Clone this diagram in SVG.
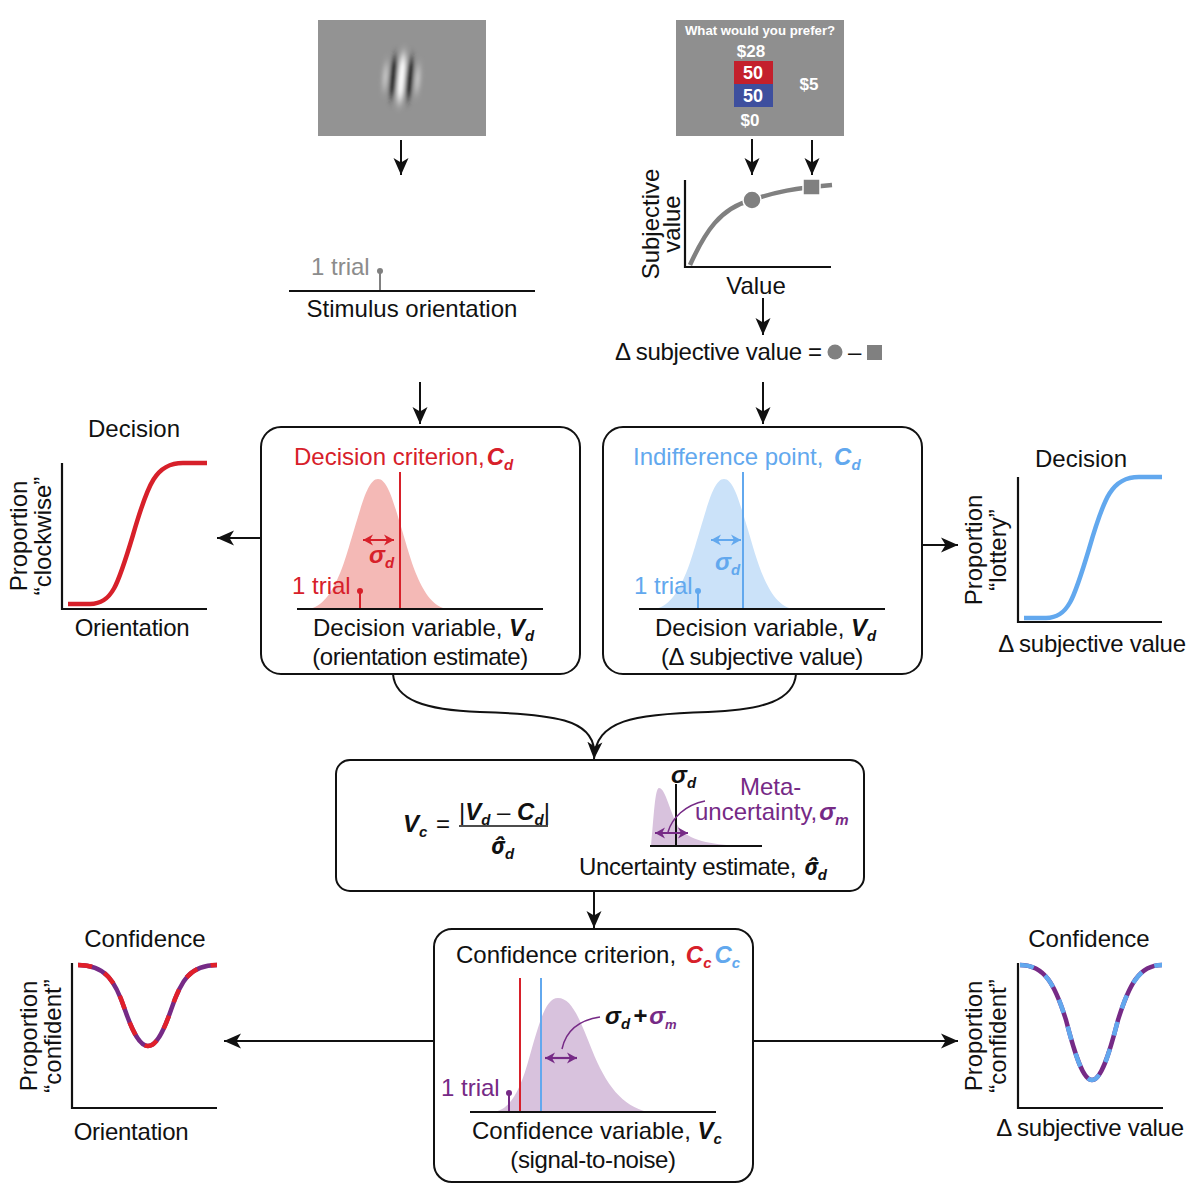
<svg xmlns="http://www.w3.org/2000/svg" width="1197" height="1200" viewBox="0 0 1197 1200">
<style>
text{font-family:"Liberation Sans",Arial,sans-serif;font-size:24px;fill:#111}
.m{text-anchor:middle}
.bi{font-weight:bold;font-style:italic}
.hat{font-family:"Noto Sans",sans-serif;font-weight:bold;font-style:italic;font-size:23px}
.sub{font-size:15px;font-weight:bold;font-style:italic}
.red{fill:#d7202a}.blue{fill:#62a8ee}.pur{fill:#762a86}.gray{fill:#8c8c8c}
.box{fill:#fff;stroke:#111;stroke-width:2}
.ax{fill:none;stroke:#111;stroke-width:2.2}
.con{fill:none;stroke:#111;stroke-width:2}
.w{fill:#fff;font-weight:bold}
</style>
<defs>
<marker id="ah" markerUnits="userSpaceOnUse" markerWidth="18" markerHeight="16" refX="17" refY="8" orient="auto"><path d="M0 0.500L17 8L0 15.500L4.500 8Z" fill="#111"/></marker>
<marker id="r1" markerUnits="userSpaceOnUse" markerWidth="11" markerHeight="12" refX="10" refY="6" orient="auto-start-reverse"><path d="M0 0.500L10 6L0 11.500L3 6Z" fill="#d7202a"/></marker>
<marker id="b1" markerUnits="userSpaceOnUse" markerWidth="11" markerHeight="12" refX="10" refY="6" orient="auto-start-reverse"><path d="M0 0.500L10 6L0 11.500L3 6Z" fill="#62a8ee"/></marker>
<marker id="p1" markerUnits="userSpaceOnUse" markerWidth="11" markerHeight="12" refX="10" refY="6" orient="auto-start-reverse"><path d="M0 0.500L10 6L0 11.500L3 6Z" fill="#762a86"/></marker>
<filter id="bl" x="-100%" y="-50%" width="300%" height="200%"><feGaussianBlur stdDeviation="2.2 6"/></filter>
</defs>

<g id="connectors">
<path class="con" marker-end="url(#ah)" d="M401 140V175"/>
<path class="con" marker-end="url(#ah)" d="M752 139V175"/>
<path class="con" marker-end="url(#ah)" d="M812 140V175"/>
<path class="con" marker-end="url(#ah)" d="M763 298V335"/>
<path class="con" marker-end="url(#ah)" d="M420 382V424"/>
<path class="con" marker-end="url(#ah)" d="M763 382V424"/>
<path class="con" marker-end="url(#ah)" d="M261 538H217"/>
<path class="con" marker-end="url(#ah)" d="M922 545H958"/>
<path class="con" d="M393 674C395 700 425 710 480 712C555 714 592 720 594 750"/>
<path class="con" marker-end="url(#ah)" d="M796 674C794 700 764 710 708 712C633 714 596 720 594 759"/>
<path class="con" marker-end="url(#ah)" d="M594 891V928"/>
<path class="con" marker-end="url(#ah)" d="M434 1041H224"/>
<path class="con" marker-end="url(#ah)" d="M753 1041H958"/>
</g>

<g id="gabor-stimulus">
<rect x="318" y="20" width="168" height="116" fill="#939393"/>
<g transform="rotate(5 402 78)" filter="url(#bl)">
<ellipse cx="385.500" cy="78" rx="3" ry="14" fill="#c8c8c8"/>
<ellipse cx="393.500" cy="78" rx="4" ry="21" fill="#222"/>
<ellipse cx="401.500" cy="78" rx="4" ry="25" fill="#fff"/>
<ellipse cx="409.500" cy="78" rx="4" ry="21" fill="#222"/>
<ellipse cx="417.500" cy="78" rx="3" ry="14" fill="#c8c8c8"/>
</g>
</g>

<g id="lottery-stimulus">
<rect x="676" y="20" width="168" height="116" fill="#8f8f8f"/>
<text class="w m" x="760" y="35" style="font-size:13.200px">What would you prefer?</text>
<text class="w m" x="751" y="57" style="font-size:17px">$28</text>
<rect x="734" y="61" width="39" height="23" fill="#c4202c"/>
<rect x="734" y="84" width="39" height="23" fill="#3e4f9e"/>
<text class="w m" x="753" y="79" style="font-size:18px">50</text>
<text class="w m" x="753" y="102" style="font-size:18px">50</text>
<text class="w m" x="809" y="90" style="font-size:17px">$5</text>
<text class="w m" x="750" y="126" style="font-size:17px">$0</text>
</g>

<g id="value-function">
<path class="ax" d="M685 180V267H831"/>
<path d="M690 265C705 232 720 208 752 200C775 192 795 188 832 185" fill="none" stroke="#808080" stroke-width="4.500"/>
<circle cx="752" cy="200" r="9" fill="#808080" stroke="#fff" stroke-width="1.500"/>
<rect x="803" y="179" width="17" height="16" fill="#808080" stroke="#fff" stroke-width="1.500"/>
<text class="m" transform="translate(659 224) rotate(-90)">Subjective</text>
<text class="m" transform="translate(680 224) rotate(-90)">value</text>
<text class="m" x="756" y="294">Value</text>
</g>

<g id="stimulus-orientation">
<text class="gray" x="311" y="275">1 trial</text>
<path d="M380 272V291" stroke="#808080" stroke-width="2" fill="none"/>
<circle cx="380" cy="271" r="3" fill="#808080"/>
<path class="ax" d="M289 291H535"/>
<text class="m" x="412" y="317">Stimulus orientation</text>
</g>

<g id="delta-subjective-value">
<text x="615" y="360" style="letter-spacing:-.3px">Δ subjective value =</text>
<circle cx="835" cy="352" r="7.500" fill="#808080"/>
<text x="848" y="360">–</text>
<rect x="867" y="345" width="15" height="15" fill="#808080"/>
</g>

<g id="decision-box-orientation">
<rect class="box" x="261" y="427" width="319" height="247" rx="20"/>
<path d="M306 609C334 609 346 556 354 530C362 504 368 479 378 479C388 479 394 504 402 530C410 556 422 609 450 609Z" fill="#f4b9b6"/>
<path d="M400 472V609" stroke="#d7202a" stroke-width="2"/>
<path d="M363 540H394" stroke="#d7202a" stroke-width="2" marker-start="url(#r1)" marker-end="url(#r1)"/>
<text x="294" y="465" class="red">Decision criterion,<tspan class="bi" dx="2">C</tspan><tspan class="sub" dy="5">d</tspan></text>
<text x="369" y="563" class="red bi">σ<tspan class="sub" dy="5">d</tspan></text>
<text x="292" y="594" class="red">1 trial</text>
<path d="M360 591V609" stroke="#d7202a" stroke-width="2"/>
<circle cx="360" cy="591" r="3" fill="#d7202a"/>
<path class="ax" d="M297 609H543"/>
<text x="313" y="636">Decision variable, <tspan class="bi">V</tspan><tspan class="sub" dy="5">d</tspan></text>
<text class="m" x="420" y="665" style="letter-spacing:-.45px">(orientation estimate)</text>
</g>

<g id="decision-box-value">
<rect class="box" x="603" y="427" width="319" height="247" rx="20"/>
<path d="M652 609C680 609 692 556 700 530C708 504 714 479 724 479C734 479 740 504 748 530C756 556 768 609 796 609Z" fill="#cbe2f9"/>
<path d="M743 472V609" stroke="#62a8ee" stroke-width="2"/>
<path d="M711 540H741" stroke="#62a8ee" stroke-width="2" marker-start="url(#b1)" marker-end="url(#b1)"/>
<text x="633" y="465" class="blue">Indifference point, <tspan class="bi" dx="4">C</tspan><tspan class="sub" dy="5">d</tspan></text>
<text x="715" y="570" class="blue bi">σ<tspan class="sub" dy="5">d</tspan></text>
<text x="634" y="594" class="blue">1 trial</text>
<path d="M698 591V609" stroke="#62a8ee" stroke-width="2"/>
<circle cx="698" cy="591" r="3" fill="#62a8ee"/>
<path class="ax" d="M639 609H885"/>
<text x="655" y="636">Decision variable, <tspan class="bi">V</tspan><tspan class="sub" dy="5">d</tspan></text>
<text class="m" x="762" y="665" style="letter-spacing:-.3px">(Δ subjective value)</text>
</g>

<g id="decision-plot-orientation">
<text class="m" x="134" y="437">Decision</text>
<path class="ax" d="M62 463V609H207"/>
<path d="M68 604H90C112 604 118 585 133 535C148 483 156 463 183 463H207" fill="none" stroke="#d7202a" stroke-width="4.500"/>
<text class="m" transform="translate(27 536) rotate(-90)">Proportion</text>
<text class="m" transform="translate(51 536) rotate(-90)">“clockwise”</text>
<text class="m" x="132" y="636" style="letter-spacing:-.25px">Orientation</text>
</g>

<g id="decision-plot-value">
<text class="m" x="1081" y="467">Decision</text>
<path class="ax" d="M1018 477V622H1162"/>
<path d="M1024 618H1046C1068 618 1074 599 1089 549C1104 497 1112 477 1139 477H1162" fill="none" stroke="#62a8ee" stroke-width="4.500"/>
<text class="m" transform="translate(982 550) rotate(-90)">Proportion</text>
<text class="m" transform="translate(1006 550) rotate(-90)">“lottery”</text>
<text class="m" x="1092" y="652" style="letter-spacing:-.25px">Δ subjective value</text>
</g>

<g id="confidence-variable-box">
<rect class="box" x="336" y="760" width="528" height="131" rx="14"/>
<text x="403" y="832" class="bi">V<tspan class="sub" dy="5">c</tspan><tspan dy="-5" dx="2" style="font-weight:normal;font-style:normal"> =</tspan></text>
<text x="459" y="820"><tspan>|</tspan><tspan class="bi">V</tspan><tspan class="sub" dy="5">d</tspan><tspan dy="-5"> – </tspan><tspan class="bi">C</tspan><tspan class="sub" dy="5">d</tspan><tspan dy="-5">|</tspan></text>
<path d="M459 826H548" stroke="#111" stroke-width="1.500"/>
<text x="491" y="854"><tspan class="hat">σ̂</tspan><tspan class="sub" dy="5">d</tspan></text>
<path d="M651 846C654 815 655 788 659 788C666 788 670 815 680 829C692 842 715 845 745 846Z" fill="#d8c2dd"/>
<path d="M676 784V846" stroke="#111" stroke-width="2"/>
<path class="ax" d="M650 846H762"/>
<path d="M655 833H688" stroke="#762a86" stroke-width="2.200" marker-start="url(#p1)" marker-end="url(#p1)"/>
<path d="M705 801C685 805 672 818 668 832" fill="none" stroke="#762a86" stroke-width="1.500"/>
<text x="671" y="783" class="bi">σ<tspan class="sub" dy="5">d</tspan></text>
<text class="pur" x="740" y="795">Meta-</text>
<text class="pur" x="695" y="820">uncertainty,<tspan class="bi" dx="2">σ</tspan><tspan class="sub" dy="5">m</tspan></text>
<text x="579" y="875" style="letter-spacing:-.4px">Uncertainty estimate, <tspan class="hat" dx="2">σ̂</tspan><tspan class="sub" dy="5">d</tspan></text>
</g>

<g id="confidence-criterion-box">
<rect class="box" x="434" y="929" width="319" height="253" rx="18"/>
<path d="M493 1112C510 1110 520 1092 530 1055C540 1020 546 998 558 998C572 998 580 1020 592 1050C606 1085 622 1106 648 1112Z" fill="#d8c2dd"/>
<path d="M520 978V1112" stroke="#d7202a" stroke-width="2"/>
<path d="M541 978V1112" stroke="#62a8ee" stroke-width="2"/>
<path d="M545 1058H577" stroke="#762a86" stroke-width="2.200" marker-start="url(#p1)" marker-end="url(#p1)"/>
<path d="M600 1017C580 1020 566 1030 562 1049" fill="none" stroke="#762a86" stroke-width="1.500"/>
<text x="456" y="963">Confidence criterion, <tspan class="bi red" dx="3">C</tspan><tspan class="sub red" dy="5">c</tspan><tspan class="bi blue" dy="-5" dx="3">C</tspan><tspan class="sub blue" dy="5">c</tspan></text>
<text x="605" y="1024" class="bi">σ<tspan class="sub" dy="5">d</tspan><tspan dy="-5" dx="3">+</tspan><tspan class="pur" dx="2">σ</tspan><tspan class="sub pur" dy="5" style="font-size:13px">m</tspan></text>
<text class="pur" x="441" y="1096">1 trial</text>
<path d="M509 1093V1112" stroke="#762a86" stroke-width="2"/>
<circle cx="509" cy="1093" r="3" fill="#762a86"/>
<path class="ax" d="M470 1112H716"/>
<text x="472" y="1139">Confidence variable, <tspan class="bi">V</tspan><tspan class="sub" dy="5">c</tspan></text>
<text class="m" x="593" y="1168" style="letter-spacing:-.4px">(signal-to-noise)</text>
</g>

<g id="confidence-plot-orientation">
<text class="m" x="145" y="947">Confidence</text>
<path class="ax" d="M72 963V1108H217"/>
<path d="M78 965C105 965 115 980 125 1010C133 1033 140 1046 148 1046C156 1046 163 1033 171 1010C181 980 190 965 217 965" fill="none" stroke="#762a86" stroke-width="4.500"/>
<path d="M78 965C105 965 115 980 125 1010C133 1033 140 1046 148 1046C156 1046 163 1033 171 1010C181 980 190 965 217 965" fill="none" stroke="#e0202a" stroke-width="4.500" stroke-dasharray="14 14"/>
<text class="m" transform="translate(37 1036) rotate(-90)">Proportion</text>
<text class="m" transform="translate(61 1036) rotate(-90)">“confident”</text>
<text class="m" x="131" y="1140" style="letter-spacing:-.25px">Orientation</text>
</g>

<g id="confidence-plot-value">
<text class="m" x="1089" y="947">Confidence</text>
<path class="ax" d="M1018 963V1108H1163"/>
<path d="M1020 965C1045 965 1055 985 1066 1020C1075 1055 1083 1080 1092 1080C1101 1080 1109 1055 1118 1020C1129 985 1139 965 1162 965" fill="none" stroke="#762a86" stroke-width="4.500"/>
<path d="M1020 965C1045 965 1055 985 1066 1020C1075 1055 1083 1080 1092 1080C1101 1080 1109 1055 1118 1020C1129 985 1139 965 1162 965" fill="none" stroke="#62a8ee" stroke-width="4.500" stroke-dasharray="14 14"/>
<text class="m" transform="translate(982 1036) rotate(-90)">Proportion</text>
<text class="m" transform="translate(1006 1036) rotate(-90)">“confident”</text>
<text class="m" x="1090" y="1136" style="letter-spacing:-.25px">Δ subjective value</text>
</g>
</svg>
